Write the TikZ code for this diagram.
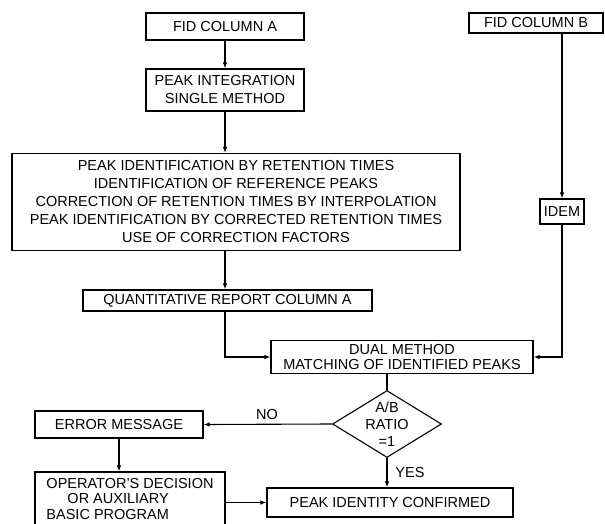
\documentclass[tikz,border=0pt]{standalone}
\usepackage{fontspec}
\setmainfont{Liberation Sans}
\usetikzlibrary{shapes.geometric,arrows.meta}
\begin{document}
\begin{tikzpicture}[x=1pt,y=-1pt,
  box/.style={draw, line width=1.1pt, inner sep=0pt, align=center,
    font=\fontsize{14.5}{18}\selectfont},
  arr/.style={line width=1.1pt, -{Latex[length=6pt,width=4.5pt]}},
  lin/.style={line width=1.1pt},
  lbl/.style={font=\fontsize{14.5}{17}\selectfont, inner sep=0pt}]
\useasboundingbox (0,0) rectangle (605,524);
\node[box, minimum width=158, minimum height=27] (fidA) at (225,26.5) {FID COLUMN A};
\node[box, minimum width=158, minimum height=42] (integ) at (225,90) {PEAK INTEGRATION\\SINGLE METHOD};
\node[box, minimum width=448, minimum height=97] (big) at (236,202) {PEAK IDENTIFICATION BY RETENTION TIMES\\IDENTIFICATION OF REFERENCE PEAKS\\CORRECTION OF RETENTION TIMES BY INTERPOLATION\\PEAK IDENTIFICATION BY CORRECTED RETENTION TIMES\\USE OF CORRECTION FACTORS};
\node[box, minimum width=289, minimum height=21] (quant) at (227.5,300.5) {QUANTITATIVE REPORT COLUMN A};
\node[box, minimum width=262, minimum height=33, font=\fontsize{14.5}{15}\selectfont] (dual) at (402,357) {DUAL METHOD\\MATCHING OF IDENTIFIED PEAKS};
\node[box, minimum width=134, minimum height=20] (fidB) at (536,23) {FID COLUMN B};
\node[box, minimum width=44, minimum height=25] (idem) at (562,211.5) {IDEM};
\node[draw, diamond, line width=1.1pt, minimum width=109, minimum height=67, inner sep=0pt] (dia) at (387,424) {};
\node[lbl, align=center] (diatext) at (dia.center) {A/B\\RATIO\\=1};
\node[box, minimum width=168, minimum height=27] (err) at (119,424.5) {ERROR MESSAGE};
\node[box, minimum width=190, minimum height=64] (oper) at (130,504) {};
\node[lbl, align=left, font=\fontsize{14.5}{15.5}\selectfont] (opertext) at (130,499) {OPERATOR'S DECISION\\\hspace*{21pt}OR AUXILIARY\\BASIC PROGRAM};
\node[box, minimum width=246, minimum height=29] (conf) at (390,502.5) {PEAK IDENTITY CONFIRMED};
\node[lbl] (no) at (267,415) {NO};
\node[lbl] (yes) at (410,473) {YES};
% connectors
\draw[arr] (fidA.south) -- (integ.north);
\draw[arr] (integ.south) -- (big.north -| integ.south);
\draw[arr] (big.south -| integ.south) -- (quant.north -| integ.south);
\draw[arr] (quant.south -| integ.south) |- (dual.west);
\draw[arr] (fidB.south -| idem.north) -- (idem.north);
\draw[arr] (idem.south) |- (dual.east);
\draw[lin] (dual.south -| dia.north) -- (dia.north);
\draw[arr] (dia.west) -- (err.east);
\draw[arr] (dia.south) -- (conf.north -| dia.south);
\draw[arr] (err.south) -- (oper.north -| err.south);
\draw[arr] (oper.east |- conf.west) -- (conf.west);
\end{tikzpicture}
\end{document}
